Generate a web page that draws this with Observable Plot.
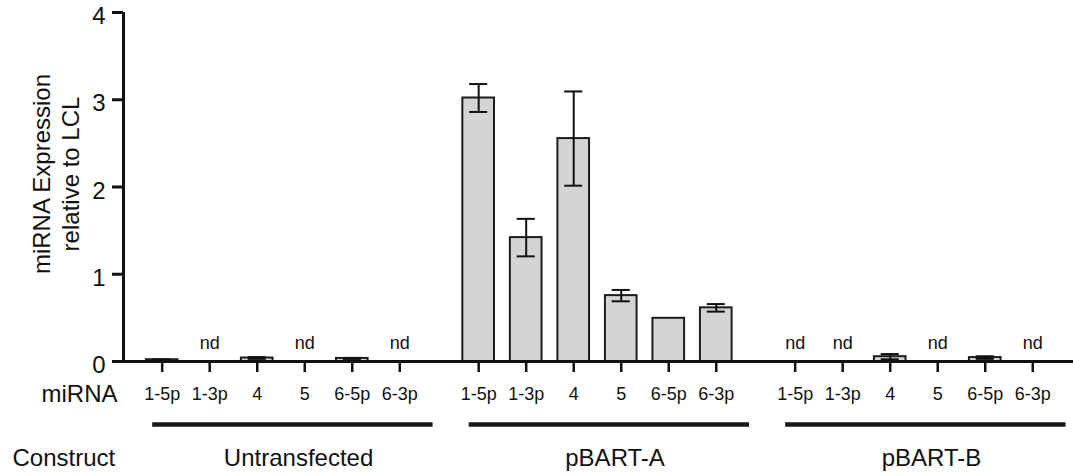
<!DOCTYPE html>
<html>
<head>
<meta charset="utf-8">
<script src="https://cdn.jsdelivr.net/npm/d3@7"></script>
<script src="https://cdn.jsdelivr.net/npm/@observablehq/plot@0.6"></script>
<style>
  html, body { margin: 0; padding: 0; background: #fff; }
</style>
</head>
<body>
<div id="chart"></div>
<script>
// ---- data ----
const GROUPS = ["Untransfected", "pBART-A", "pBART-B"];
const MIRNAS = ["1-5p", "1-3p", "4", "5", "6-5p", "6-3p"];
const UNTRANSFECTED = [0.02, null, 0.04, null, 0.035, null];
const UNTRANSFECTED_ERR = [0.004, null, 0.01, null, 0.006, null];
const PBART_A = [3.02, 1.42, 2.555, 0.755, 0.495, 0.615];
const PBART_A_ERR = [0.16, 0.215, 0.54, 0.065, null, 0.043];
const PBART_B = [null, null, 0.055, null, 0.045, null];
const PBART_B_ERR = [null, null, 0.03, null, 0.015, null];
const Y_TICKS = [0, 1, 2, 3, 4];
const Y_LABEL = "miRNA Expression\nrelative to LCL";
const ROW_LABEL_MIRNA = "miRNA";
const ROW_LABEL_CONSTRUCT = "Construct";
const ND_TEXT = "nd";

// ---- layout constants ----
const GROUP_STEP = 6.66;   // slots per construct group (6 bars + gap)
const BAR_HALF = 0.333;
const CAP = 0.19;
const X_DOMAIN = [-0.814, 19.177];

const VALUES = [UNTRANSFECTED, PBART_A, PBART_B];
const ERRS = [UNTRANSFECTED_ERR, PBART_A_ERR, PBART_B_ERR];

const rows = [];
GROUPS.forEach((g, gi) => {
  MIRNAS.forEach((m, i) => {
    rows.push({group: g, mirna: m, pos: gi * GROUP_STEP + i, value: VALUES[gi][i], err: ERRS[gi][i]});
  });
});
const measured = rows.filter(d => d.value != null);
const withErr = measured.filter(d => d.err != null);
const notDetected = rows.filter(d => d.value == null);
const groupRows = GROUPS.map((g, gi) => ({group: g, start: gi * GROUP_STEP}));
const tickPositions = rows.map(d => d.pos);
const labelMap = new Map(rows.map(d => [d.pos, d.mirna]));

const ink = "#111";

const chart = Plot.plot({
  width: 1073,
  height: 476,
  marginLeft: 123,
  marginRight: 0,
  marginTop: 12,
  marginBottom: 115,
  x: {domain: X_DOMAIN, axis: null},
  y: {domain: [0, 4], axis: null},
  style: {fontFamily: "'Liberation Sans', Arial, Helvetica, sans-serif", color: ink, background: "#fff"},
  marks: [
    Plot.rect(measured, {
      x1: d => d.pos - BAR_HALF, x2: d => d.pos + BAR_HALF,
      y1: 0, y2: "value",
      fill: "#d4d4d4", stroke: "#1c1c1c", strokeWidth: 2
    }),
    Plot.ruleX(withErr, {x: "pos", y1: d => d.value - d.err, y2: d => d.value + d.err, stroke: ink, strokeWidth: 2}),
    Plot.ruleY(withErr, {x1: d => d.pos - CAP, x2: d => d.pos + CAP, y: d => d.value + d.err, stroke: ink, strokeWidth: 2}),
    Plot.ruleY(withErr, {x1: d => d.pos - CAP, x2: d => d.pos + CAP, y: d => d.value - d.err, stroke: ink, strokeWidth: 2}),
    Plot.ruleY([0], {stroke: ink, strokeWidth: 3}),
    Plot.ruleX([X_DOMAIN[0]], {y1: 0, y2: 4, stroke: ink, strokeWidth: 3}),
    // y ticks (lines) and their labels, labels sit slightly below the tick as in the reference
    Plot.axisY({ticks: Y_TICKS, tickSize: 11, strokeWidth: 3, tickFormat: () => "", label: null}),
    Plot.text(Y_TICKS, {x: () => X_DOMAIN[0], y: d => d, text: d => String(d), textAnchor: "end", dx: -18, dy: 4, fontSize: 24}),
    Plot.axisX(tickPositions, {tickSize: 11, tickPadding: 15, fontSize: 18, strokeWidth: 2.5, tickFormat: d => labelMap.get(d), label: null}),
    Plot.text(notDetected, {x: "pos", y: 0, text: () => ND_TEXT, dy: -18, fontSize: 18}),
    Plot.ruleY(groupRows, {x1: d => d.start - 0.2, x2: d => d.start + 5.7, y: () => 0, dy: 63, stroke: "#1a1a1a", strokeWidth: 4.5}),
    Plot.text(groupRows, {x: d => d.start + 2.87, y: () => 0, text: "group", dy: 97, fontSize: 24, lineAnchor: "middle"}),
    Plot.text([ROW_LABEL_MIRNA], {frameAnchor: "bottom-left", textAnchor: "end", lineAnchor: "middle", dx: -6, dy: 33, fontSize: 24}),
    Plot.text([ROW_LABEL_CONSTRUCT], {frameAnchor: "bottom-left", textAnchor: "start", lineAnchor: "middle", dx: -111, dy: 97, fontSize: 24}),
    Plot.text([Y_LABEL], {frameAnchor: "left", textAnchor: "middle", lineAnchor: "middle", rotate: -90, dx: -68, dy: -13, fontSize: 24, lineHeight: 1.18})
  ]
});
document.getElementById("chart").appendChild(chart);
</script>
</body>
</html>
